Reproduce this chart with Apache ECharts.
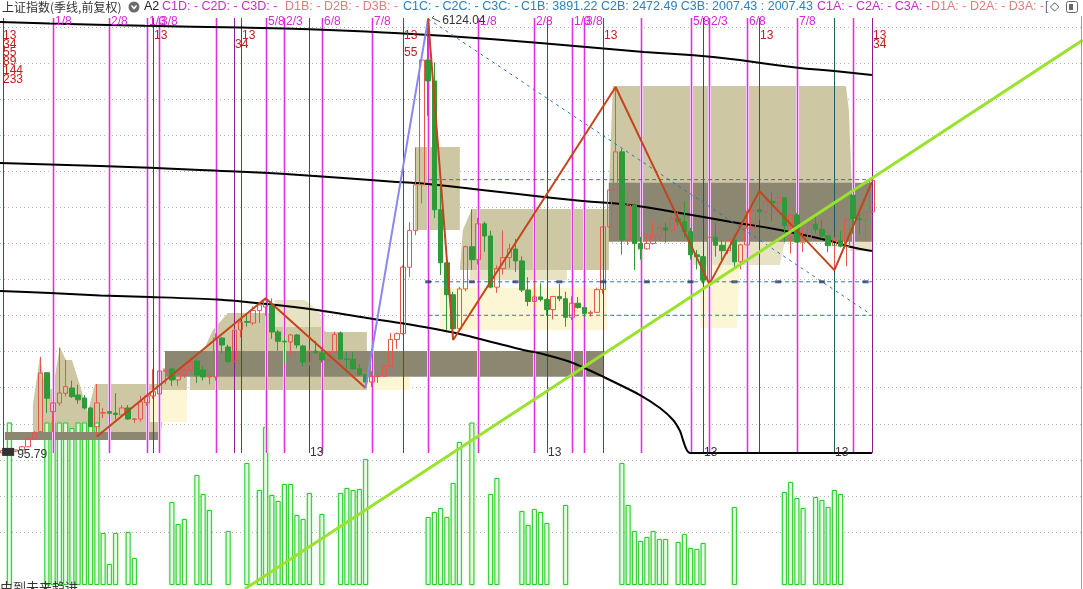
<!DOCTYPE html>
<html><head><meta charset="utf-8">
<script src="https://cdn.jsdelivr.net/npm/echarts@6/dist/echarts.min.js"></script>
<style>html,body{margin:0;padding:0;background:#fff}#c{width:1083px;height:589px}</style>
</head><body><div id="c"></div>
<script>
// ---------- DATA ----------
const slotCount = 173; // quarters on the time axis, from 1990Q4 (incl. empty future slots)
const opens = [96.05,127.61,120.2,137.6,180.9,289,390,1210,669,789,
924,997,900,858,720,460,648,668,647,623,
720,560,567,793,887,914,1230,1262,1109,1178,
1248,1373,1248,1151,1151,1692,1567,1367,1803,1920,
1900,2073,2122,2150,1776,1646,1637,1734,1581,1357,
1510,1487,1387,1497,1762,1400,1396,1266,1181,1080,
1155,1161,1299,1672,1752,2675,3183,3820,5552,5262,
3473,2736,2293,1821,2373,2959,2779,3277,3109,2398,
2655,2808,2928,2762,2359,2199,2263,2225,2086,2269,
2237,1979,2175,2116,2033,2048,2364,3235,3748,4277,
3053,3539,3003,2930,3005,3104,3223,3192,3349,3307,
3169,2847,2821,2494,3091,2979,2905,3050,2750,2985,
3218,3473,3442,3591,3568,3640,3252,3399,3024,3089,
3273,3202,3110,2975,3041,2967,3674,3347,3336,3444];
const closes = [127.61,120.2,137.6,180.9,292.75,377,1206,855,789,928,
1016,877,833,720,460,790,655,647,630,720,
567,567,807,886,946,1234,1245,1109,1206,1248,
1358,1178,1151,1158,1692,1595,1367,1800,1914,1910,
2073,2150,2218,1776,1646,1637,1734,1595,1357,1510,
1487,1387,1497,1742,1400,1396,1266,1181,1080,1155,
1161,1299,1672,1752,2675,3183,3820,5552,5262,3473,
2736,2293,1821,2373,2959,2779,3277,3109,2398,2655,
2808,2928,2762,2359,2199,2263,2225,2086,2269,2237,
1979,2175,2116,2033,2048,2364,3235,3748,4277,3053,
3539,3003,2930,3005,3104,3223,3192,3349,3307,3169,
2847,2821,2494,3091,2979,2905,3050,2750,2985,3218,
3473,3442,3591,3568,3640,3252,3399,3024,3089,3273,
3202,3110,2975,3041,2967,3336,3352,3336,3444,3882];
const lows = [95.79,116,104.96,137.6,178,289,380,650,386,750,
880,860,780,700,455,325,580,524,560,600,
555,512,530,750,850,870,1050,1025,1030,1140,
1230,1067,1100,1050,1100,1484,1341,1360,1700,1850,
1870,1900,2000,1680,1514,1340,1450,1550,1300,1310,
1470,1350,1307,1490,1390,1260,1250,1170,998,1010,
1070,1150,1290,1540,1740,2540,3120,3560,4778,3357,
2566,1802,1664,1814,2338,2639,2712,2890,2382,2319,
2573,2661,2610,2331,2134,2132,2200,1999,1949,2200,
1849,1941,2100,1975,1991,2043,2308,3049,3747,2850,
2983,2638,2781,2920,2990,3044,3016,3168,3254,3091,
2782,2644,2449,2440,2822,2733,2857,2647,2646,2984,
3209,3328,3328,3312,3465,3023,2863,3021,2886,3063,
3147,3073,2882,2635,2951,2689,3140,3140,3040,3440];
const highs = [127.61,134.9,137.6,191.2,293,400,1429,1210,800,1558,
1387,1100,1044,900,730,1052,720,700,926,760,
760,580,890,900,1258,1300,1510,1270,1220,1300,
1422,1390,1300,1220,1756,1700,1600,1820,1950,2030,
2130,2160,2245,2240,1800,1700,1750,1748,1600,1530,
1650,1530,1500,1780,1783,1500,1500,1330,1200,1230,
1200,1310,1760,1770,2700,3300,4335,5560,6124.04,5522,
3786,2952,2333,2402,2975,3478,3361,3306,3181,2702,
3186,3000,3067,2826,2536,2478,2453,2243,2276,2444,
2334,2270,2260,2120,2074,2391,3239,3835,5178,4317,
3684,3539,3096,3140,3301,3301,3296,3391,3450,3587,
3220,2915,2831,3129,3288,3048,3063,3127,3000,3458,
3474,3732,3624,3723,3708,3651,3416,3425,3226,3339,
3418,3322,3116,3092,3174,3358,3674,3440,3458,3900];
// lower-pane indicator (green hollow bars), null = no bar
const indicator = [null,165,null,null,null,null,null,165,165,165,
165,157,165,165,165,165,52,21,52,null,
53,27,null,null,null,null,null,83,61,66,
null,110,91,75,null,null,54,null,null,122,
null,95,158,90,84,101,101,70,66,92,
null,71,null,null,92,97,95,96,126,null,
null,null,null,null,null,null,null,null,68,73,
77,68,102,143,null,165,null,null,91,107,
null,null,null,74,60,76,73,62,null,null,
80,null,null,null,null,null,null,null,null,122,
80,54,44,48,54,46,46,null,43,51,
37,36,42,null,null,null,null,78,null,null,
null,null,null,null,null,93,103,87,77,null,
88,85,78,95,91,null,null,null,null,null];
// zigzag pivots [quarter index, price]
const zigzagA = [[15,325],[42,2245],[58,998]];
const riseLeg = [[58,998],[68,6124.04]];
const zigzagB = [[68,6124.04],[72,1664],[98,5178],[113,2440],[121,3732],[133,2635],[139,3860]];
// black curves [quarter index, price]
const curveTop = [[-0.5,6081],[7.5,6060],[22.7,6028],[38,6004],[49,5979],[64,5922],[71,5886],[85.9,5789],[102.5,5664],[113.6,5595],[126.8,5449],[133,5400],[139,5345]];
const curveMid = [[-0.5,4122],[15.5,4081],[31.5,4025],[47.5,3956],[61.9,3866],[66.7,3841],[79.5,3720],[92.3,3599],[100.3,3539],[108.3,3428],[116.3,3307],[124.3,3192],[132.8,3029],[135.5,2960],[139,2900]];
const curveLow = [[-0.5,2345],[7.5,2317],[15.5,2282],[23.5,2261],[34.2,2227],[42.2,2164],[50.2,2081],[58.2,1970],[65.1,1879],[73.1,1747],[83.2,1525],[85.9,1479],[91.2,1345],[96,1154],[101.9,900],[105.1,720],[107.2,553],[108.3,400],[109.9,95],[139,95]];
const trendGreen = [[38.68,-1794],[172.76,5831]];
const dashDiag = [[68,6124.04],[138.5,2040]];
const levelC1B = 3891.22, levelC2B = 2472.49, levelC3B = 2007.43;
const levelStart = 68, levelEnd = 139;
const c2bMarks = [68,75,82,89,96,103,110,117,124,131,138];
// shaded zones, polygons in [quarter index, price]
const khakiAreas = [
 [[4.76,275],[4.76,761],[5.88,1428],[6.84,942],[7.96,997],[9.08,1567],[10.04,1386],[11,1386],[12.28,1039],[13.56,664],[14.68,1053],[25.08,1053],[25.56,1275],[29.4,1275],[29.4,858],[25.88,761],[25.08,275]],
 [[29.88,969],[29.88,1247],[31.96,1497],[33.56,1803],[35.96,2039],[43,2039],[43.48,1844],[51,1844],[51.64,1775],[58.2,1775],[58.2,969]],
 [[65.88,3192],[65.88,4344],[73.08,4344],[73.08,3192]],
 [[73.08,2636],[73.56,3192],[75,3483],[96.92,3483],[96.92,2636]],
 [[96.92,3747],[97.56,5192],[134.84,5192],[135.32,4858],[135.8,3747]]
];
const lightAreas = [
 [[43.48,2219],[48.28,2219],[50.68,2039],[51,1844],[43.48,1844]],
 [[74.68,2636],[90.2,2636],[90.2,2497],[74.68,2497]],
 [[109.88,3039],[125.08,3039],[124.28,2706],[109.88,2706]],
 [[135.48,3039],[139,3039],[139,2900],[135.48,2900]]
];
const creamAreas = [
 [[23.48,969],[29.4,969],[29.4,525],[23.48,525]],
 [[58.2,1150],[65.08,1150],[65.08,969],[58.2,969]],
 [[69.88,2386],[96.6,2386],[96.6,1803],[69.88,1803]],
 [[111.48,2706],[117.88,2706],[117.4,1830],[111.48,1830]]
];
// dark boxes [fromIndex, toIndex, lowPrice, highPrice]
const darkBoxes = [[0.28,25.08,275,386],[26,96,1154,1511],[96.9,139,3029,3849]];
// vertical time lines [index, kind] kind 0 magenta, 1 purple, 2 teal
const vlines = [[0,2],[8,0],[17,0],[23,0],[24,1],[25,0],[34,0],[37,1],[38,1],[42,0],[45,0],[49,2],[51,0],[59,0],[64,1],[68,0],[76,0],[85,0],[87,2],[91,0],[93,0],[96,1],[102,0],[110,0],[112,2],[113,0],[119,0],[121,1],[127,0],[133,2],[136,0],[139,1]];
const topLabels = [[8,'1/8'],[17,'2/8'],[23,'1/3'],[25,'3/8'],[42,'5/8'],[45,'2/3'],[51,'6/8'],[59,'7/8'],[76,'1/8'],[85,'2/8'],[91,'1/3'],[93,'3/8'],[110,'5/8'],[113,'2/3'],[119,'6/8'],[127,'7/8']];
const fibLabels = [[0,'13',0],[0,'34',1],[0,'55',2],[0,'89',3],[0,'144',4],[0,'233',5],[24,'13',0],[37,'34',1],[38,'13',0],[64,'13',0],[64,'55',2],[96,'13',0],[121,'13',0],[139,'13',0],[139,'34',1]];
const bottomLabels = [[49,'13'],[87,'13'],[112,'13'],[133,'13']];
const priceLabels = [[68,6124.04,'6124.04'],[0,95.79,'95.79']];
const titleText = '上证指数(季线,前复权)';
const headerGroups = [
 ['A2',144,'#222'],
 ['C1D: - C2D: - C3D: -',162,'#c62fc6'],
 ['D1B: - D2B: - D3B: -',285,'#e07c7c'],
 ['C1C: - C2C: - C3C: -',403,'#2a7fbf'],
 ['C1B: 3891.22 C2B: 2472.49 C3B: 2007.43 : 2007.43',521,'#2a7fbf'],
 ['C1A: - C2A: - C3A: -',817,'#c62fc6'],
 ['D1A: - D2A: - D3A: -',931,'#e07c7c'],
 ['[',1045,'#6a6a9a']
];
const footText = '由到未来趋进';

// ---------- CHART ----------
const PMIN = 94.6, PMAX = 6136.3;
const categories = Array.from({length: slotCount}, (_, i) => { const q = i + 3; return (1990 + Math.floor(q / 4)) + 'Q' + (q % 4 + 1); });
const ohlc = opens.map((o, i) => [o, closes[i], lows[i], highs[i]]);
const FONT = '12px "Liberation Sans", Arial, sans-serif';

function polySeries(polys, fill, z) {
  return { type: 'custom', xAxisIndex: 1, yAxisIndex: 0, z: z, silent: true,
    data: polys.map((_, i) => [i, 0]),
    renderItem: (params, api) => ({ type: 'polygon', shape: { points: polys[params.dataIndex].map(p => api.coord(p)) }, style: { fill: fill } }) };
}
function lineSeries(data, color, width, z, extra) {
  return Object.assign({ type: 'line', xAxisIndex: 1, yAxisIndex: 0, data: data, showSymbol: false, symbol: 'none', z: z, silent: true,
    lineStyle: { color: color, width: width } }, extra || {});
}
const vColors = ['#e02ee0', '#8c1f8c', '#1d5e5e'];
const dashed = (t) => ({ lineStyle: { color: '#2f73bd', width: 1, type: t } });

const option = {
  animation: false,
  backgroundColor: '#fff',
  grid: [
    { left: 0, top: 18, width: 1081.25, height: 435 },
    { left: 0, top: 423, width: 1081.25, height: 162 },
    { left: 0, top: 27, width: 1081.25, height: 505 }
  ],
  xAxis: [
    { type: 'category', gridIndex: 0, data: categories, show: false },
    { type: 'value', gridIndex: 0, min: -0.5, max: slotCount - 0.5, show: false },
    { type: 'category', gridIndex: 1, data: categories, show: false },
    { type: 'value', gridIndex: 2, min: 0, max: 1, show: false }
  ],
  yAxis: [
    { type: 'value', gridIndex: 0, min: PMIN, max: PMAX, show: false },
    { type: 'value', gridIndex: 1, min: 0, max: 162, show: false },
    { type: 'value', gridIndex: 2, min: 0, max: 14, interval: 1, axisLine: { show: false }, axisTick: { show: false }, axisLabel: { show: false },
      splitLine: { show: true, lineStyle: { color: '#b4b4b4', width: 1, type: [1, 3] } } }
  ],
  series: [
    { type: 'bar', xAxisIndex: 2, yAxisIndex: 1, data: indicator, barWidth: 5, z: 1, silent: true,
      itemStyle: { color: 'rgba(255,255,255,0.95)', borderColor: '#2ccc2c', borderWidth: 1, shadowBlur: 2, shadowColor: 'rgba(110,235,110,0.7)' } },
    polySeries(khakiAreas, '#cdc7a4', 1),
    polySeries(lightAreas, '#e7e2c4', 1),
    polySeries(creamAreas, '#fcf6d5', 1),
    { type: 'custom', xAxisIndex: 1, yAxisIndex: 0, z: 2, silent: true, data: darkBoxes.map((_, i) => [i, 0]),
      renderItem: (params, api) => { const b = darkBoxes[params.dataIndex]; const a = api.coord([b[0], b[3]]); const c = api.coord([b[1], b[2]]);
        return { type: 'rect', shape: { x: a[0], y: a[1], width: c[0] - a[0], height: c[1] - a[1] }, style: { fill: '#8b8770' } }; } },
    { type: 'custom', xAxisIndex: 1, yAxisIndex: 0, z: 3, silent: true, data: vlines.map(v => [v[0], 0]),
      renderItem: (params, api) => { const v = vlines[params.dataIndex]; const t = api.coord([v[0], PMAX]); const b = api.coord([v[0], PMIN]);
        const x = Math.round(t[0]) + 0.5; const kids = [];
        if (v[1] === 0) kids.push({ type: 'line', shape: { x1: x, y1: t[1], x2: x, y2: b[1] }, style: { stroke: '#f7c4f7', lineWidth: 3 } });
        kids.push({ type: 'line', shape: { x1: x, y1: t[1], x2: x, y2: b[1] }, style: { stroke: vColors[v[1]], lineWidth: 1 } });
        return { type: 'group', children: kids }; } },
    lineSeries(curveTop, '#000', 2, 4, { smooth: true }),
    lineSeries(curveMid, '#000', 2, 4, { smooth: true }),
    lineSeries(curveLow, '#000', 2, 4, { smooth: 0.2 }),
    { type: 'candlestick', xAxisIndex: 0, yAxisIndex: 0, data: ohlc, barWidth: 5, z: 5, silent: true,
      itemStyle: { color: 'rgba(255,255,255,0)', color0: '#2f9a37', borderColor: '#e5574c', borderColor0: '#2f9a37', borderWidth: 1 } },
    lineSeries([[levelStart, levelC1B], [levelEnd, levelC1B]], '#2f73bd', 1, 6, dashed([4, 3])),
    lineSeries([[levelStart, levelC2B], [levelEnd, levelC2B]], '#2f73bd', 1, 6, dashed([4, 3])),
    lineSeries([[levelStart, levelC3B], [levelEnd, levelC3B]], '#2f73bd', 1, 6, dashed([4, 3])),
    lineSeries(dashDiag, '#2f73bd', 1, 6, dashed([3, 4])),
    { type: 'scatter', xAxisIndex: 1, yAxisIndex: 0, z: 7, silent: true, symbol: 'rect', symbolSize: [6, 3],
      data: c2bMarks.map(i => [i, levelC2B]), itemStyle: { color: '#2e3b66' } },
    lineSeries(zigzagA, '#c4441c', 2, 6),
    lineSeries(riseLeg, '#8a88ee', 2, 6),
    lineSeries(zigzagB, '#c4441c', 2, 6),
    lineSeries(trendGreen, '#9ae22e', 3, 8, { clip: false }),
    { type: 'custom', xAxisIndex: 1, yAxisIndex: 0, z: 9, silent: true, data: topLabels.map(l => [l[0], 0]),
      renderItem: (params, api) => { const l = topLabels[params.dataIndex]; const p = api.coord([l[0], PMAX]);
        return { type: 'text', x: Math.round(p[0]) + 2, y: p[1] + 4, style: { text: l[1], fill: '#d62ad6', font: FONT, align: 'left', verticalAlign: 'middle' } }; } },
    { type: 'custom', xAxisIndex: 1, yAxisIndex: 0, z: 9, silent: true, data: fibLabels.map(l => [l[0], 0]),
      renderItem: (params, api) => { const l = fibLabels[params.dataIndex]; const p = api.coord([l[0], PMAX]);
        return { type: 'text', x: Math.round(p[0]) + (l[0] === 0 ? 0 : 1), y: p[1] + 17.5 + l[2] * 8.8, style: { text: l[1], fill: '#c41c1c', font: FONT, align: 'left', verticalAlign: 'middle' } }; } },
    { type: 'custom', xAxisIndex: 1, yAxisIndex: 0, z: 9, silent: true, data: bottomLabels.map(l => [l[0], 0]),
      renderItem: (params, api) => { const l = bottomLabels[params.dataIndex]; const p = api.coord([l[0], PMIN]);
        return { type: 'text', x: Math.round(p[0]) + 1, y: p[1], style: { text: l[1], fill: '#333', font: FONT, align: 'left', verticalAlign: 'middle' } }; } },
    { type: 'custom', xAxisIndex: 1, yAxisIndex: 0, z: 9, silent: true, data: priceLabels.map(l => [l[0], l[1]]),
      renderItem: (params, api) => { const l = priceLabels[params.dataIndex]; const p = api.coord([l[0], l[1]]);
        const kids = [{ type: 'text', x: p[0] + 14, y: p[1] + 2, style: { text: l[2], fill: '#333', font: FONT, align: 'left', verticalAlign: 'middle' } }];
        if (params.dataIndex === 0) kids.push({ type: 'polyline', shape: { points: [[p[0] + 12, p[1] + 3], [p[0] + 4, p[1] - 1], [p[0] + 6, p[1] - 3]] }, style: { stroke: '#444', fill: null, lineWidth: 1 } });
        else kids.push({ type: 'rect', shape: { x: p[0] - 1, y: p[1] - 5, width: 12, height: 8 }, style: { fill: '#333' } });
        return { type: 'group', children: kids }; } }
  ],
  graphic: [
    { type: 'text', x: 2, y: 7, z: 100, style: { text: titleText, fill: '#333', font: '12px "Noto Sans CJK SC", sans-serif', verticalAlign: 'middle' } },
    ...headerGroups.map(h => ({ type: 'text', x: h[1], y: 7, z: 100, style: { text: h[0], fill: h[2], font: '12.5px "Liberation Sans", Arial, sans-serif', verticalAlign: 'middle' } })),
    { type: 'circle', shape: { cx: 134, cy: 7, r: 5.5 }, style: { fill: '#6b6b6b' }, z: 100 },
    { type: 'polyline', shape: { points: [[131.5, 5.5], [134, 8.5], [136.5, 5.5]] }, style: { stroke: '#fff', lineWidth: 1.5, fill: null }, z: 101 },
    { type: 'text', x: 1050, y: 7, z: 100, style: { text: '◇', fill: '#555', font: '12px "DejaVu Sans", sans-serif', verticalAlign: 'middle' } },
    { type: 'rect', shape: { x: 1066.5, y: 1.5, width: 11, height: 11, r: 2 }, style: { fill: '#fff', stroke: '#666', lineWidth: 1 }, z: 100 },
    { type: 'rect', shape: { x: 1069, y: 4, width: 4, height: 6 }, style: { fill: '#666' }, z: 100 },
    { type: 'line', shape: { x1: 1081.5, y1: 16, x2: 1081.5, y2: 589 }, style: { stroke: '#a0a0a0', lineWidth: 1 }, z: 100 },
    { type: 'text', x: 0, y: 581, z: 100, style: { text: footText, fill: '#333', font: '13px "Noto Sans CJK SC", sans-serif', verticalAlign: 'top' } }
  ]
};
const chart = echarts.init(document.getElementById('c'));
chart.setOption(option);
</script>
</body></html>
